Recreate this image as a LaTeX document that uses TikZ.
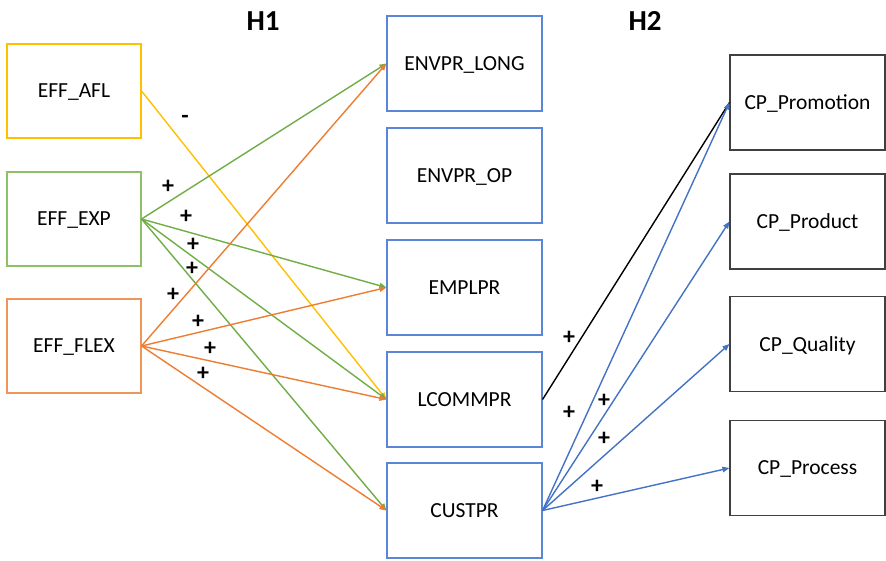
\documentclass[tikz,border=0pt]{standalone}
\usepackage{fontspec}
\setmainfont{Carlito}
\usetikzlibrary{arrows.meta}
\definecolor{cyellow}{HTML}{FFC000}
\definecolor{cgreen}{HTML}{70AD47}
\definecolor{corange}{HTML}{ED7D31}
\definecolor{cblue}{HTML}{4472C4}
\definecolor{bgreen}{HTML}{8CC168}
\definecolor{borange}{HTML}{F0955A}
\definecolor{bblue}{HTML}{5B86D6}
\definecolor{bgray}{HTML}{404040}
\tikzset{
  box/.style={draw, rectangle, line width=1.1pt, inner sep=0pt,
    minimum width=134pt, minimum height=94pt,
    font=\fontsize{21.5}{24}\selectfont, text depth=0pt},
  midbox/.style={box, draw=bblue, minimum width=155pt, minimum height=95pt},
  cpbox/.style={box, draw=bgray, minimum width=155pt, minimum height=95pt},
  link/.style={line width=1.4pt, -{Triangle[length=7pt,width=5.5pt]}},
  sign/.style={font=\fontsize{24}{26}\selectfont\bfseries, inner sep=0pt},
  head/.style={font=\fontsize{29}{32}\selectfont\bfseries, inner sep=0pt}
}
\begin{document}
\begin{tikzpicture}[x=1pt, y=-1pt]
\useasboundingbox (0,0) rectangle (886,561);

% column titles
\node[head] (h1) at (263,21) {H1};
\node[head] (h2) at (645,21) {H2};

% efficiency measures
\node[box, draw=cyellow] (afl) at (74,91) {EFF\_AFL};
\node[box, draw=bgreen] (exp) at (74,219) {EFF\_EXP};
\node[box, draw=borange] (flex) at (74,346) {EFF\_FLEX};

% pressures
\node[midbox] (long) at (464.5,63.5) {ENVPR\_LONG};
\node[midbox] (op) at (464.5,175.5) {ENVPR\_OP};
\node[midbox] (empl) at (464.5,287.5) {EMPLPR};
\node[midbox] (lcomm) at (464.5,399.5) {LCOMMPR};
\node[midbox] (cust) at (464.5,510.5) {CUSTPR};

% competitive priorities
\node[cpbox] (promo) at (807.5,102.5) {CP\_Promotion};
\node[cpbox] (prod) at (807.5,221.5) {CP\_Product};
\node[cpbox] (qual) at (807.5,344) {CP\_Quality};
\node[cpbox] (proc) at (807.5,468) {CP\_Process};

% H1 paths
\draw[link, cyellow] (afl.east) -- (lcomm.west);
\draw[link, cgreen] (exp.east) -- (long.west);
\draw[link, cgreen] (exp.east) -- (empl.west);
\draw[link, cgreen] (exp.east) -- (lcomm.west);
\draw[link, cgreen] (exp.east) -- (cust.west);
\draw[link, corange] (flex.east) -- (long.west);
\draw[link, corange] (flex.east) -- (empl.west);
\draw[link, corange] (flex.east) -- (lcomm.west);
\draw[link, corange] (flex.east) -- (cust.west);

% H2 paths
\draw[line width=1.4pt, black] (lcomm.east) -- (promo.west);
\draw[link, cblue] (cust.east) -- (promo.west);
\draw[link, cblue] (cust.east) -- (prod.west);
\draw[link, cblue] (cust.east) -- (qual.west);
\draw[link, cblue] (cust.east) -- (proc.west);

% signs
\node[sign] (s0) at (185,119) {-};
\node[sign] (s1) at (168,187) {+};
\node[sign] (s2) at (186,217) {+};
\node[sign] (s3) at (193,245) {+};
\node[sign] (s4) at (192,269) {+};
\node[sign] (s5) at (173,295) {+};
\node[sign] (s6) at (198,322) {+};
\node[sign] (s7) at (210,349) {+};
\node[sign] (s8) at (203,374) {+};
\node[sign] (s9) at (569,338) {+};
\node[sign] (s10) at (569,413) {+};
\node[sign] (s11) at (604,401) {+};
\node[sign] (s12) at (604,439) {+};
\node[sign] (s13) at (597,487) {+};
\end{tikzpicture}
\end{document}
